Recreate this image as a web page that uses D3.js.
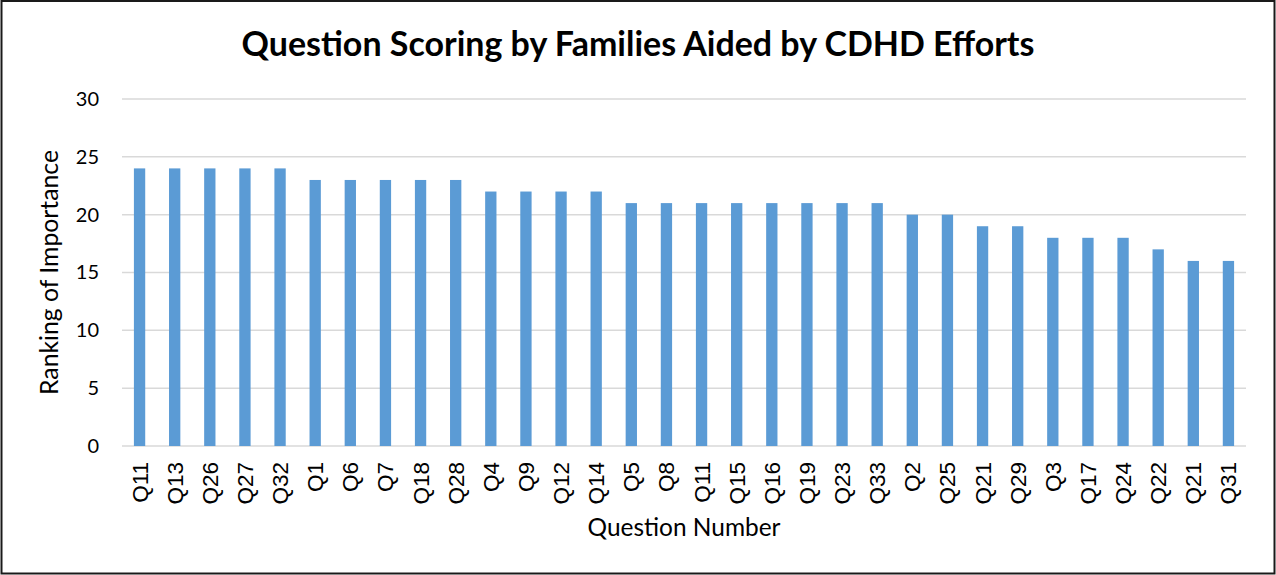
<!DOCTYPE html>
<html>
<head>
<meta charset="utf-8">
<script src="https://cdn.jsdelivr.net/npm/d3@7"></script>
<style>
  html, body { margin: 0; padding: 0; background: #fff; }
  svg { display: block; }
</style>
</head>
<body>
<svg id="chart" width="1276" height="575"></svg>
<script>
const categories = ["Q11","Q13","Q26","Q27","Q32","Q1","Q6","Q7","Q18","Q28","Q4","Q9","Q12","Q14","Q5","Q8","Q11","Q15","Q16","Q19","Q23","Q33","Q2","Q25","Q21","Q29","Q3","Q17","Q24","Q22","Q21","Q31"];
const values = [24,24,24,24,24,23,23,23,23,23,22,22,22,22,21,21,21,21,21,21,21,21,20,20,19,19,18,18,18,17,16,16];
const yTicks = [0,5,10,15,20,25,30];
const titleText = "Question Scoring by Families Aided by CDHD Efforts";
const xTitle = "Question Number";
const yTitle = "Ranking of Importance";

const svg = d3.select("#chart");
const W = 1276, H = 575;
const margin = {left: 122, right: 30, top: 99, bottom: 129};
const x0 = margin.left, x1 = W - margin.right;
const y0 = H - margin.bottom, y1 = margin.top;

svg.append("rect").attr("x", 1.5).attr("y", 1).attr("width", W - 3).attr("height", H - 2.5)
  .attr("fill", "#fff").attr("stroke", "#1a1a1a").attr("stroke-width", 2);

const idx = categories.map((c, i) => i);
const x = d3.scaleBand().domain(idx).range([x0, x1]).paddingInner(0.678).paddingOuter(0.339);
const y = d3.scaleLinear().domain([0, 30]).range([y0, y1]);

// gridlines
svg.append("g").selectAll("line").data(yTicks).join("line")
  .attr("x1", x0).attr("x2", x1)
  .attr("y1", d => y(d)).attr("y2", d => y(d))
  .attr("stroke", "#d9d9d9").attr("stroke-width", 1.5);

// y axis labels
const yAxis = d3.axisLeft(y).tickValues(yTicks).tickSize(0).tickPadding(23);
const gy = svg.append("g").attr("transform", `translate(${x0},0)`).call(yAxis);
gy.select(".domain").remove();
gy.selectAll("text").attr("font-family", "Lato, 'Open Sans', sans-serif").attr("font-size", 20).attr("fill", "#000");

// bars
svg.append("g").selectAll("rect").data(values).join("rect")
  .attr("x", (d, i) => x(i)).attr("width", x.bandwidth())
  .attr("y", d => y(d)).attr("height", d => y(0) - y(d))
  .attr("fill", "#5b9bd5");

// x axis labels
const xAxis = d3.axisBottom(x).tickSize(0).tickFormat(i => categories[i]);
const gx = svg.append("g").attr("transform", `translate(0,${y0})`).call(xAxis);
gx.select(".domain").remove();
gx.selectAll("text")
  .attr("font-family", "'Liberation Sans', Arial, sans-serif").attr("font-size", 22.5).attr("fill", "#000")
  .attr("text-anchor", "end").attr("dy", null).attr("y", 0)
  .attr("transform", "translate(8,16) rotate(-90)");

function fit(sel, target) {
  const s = +sel.attr("font-size");
  const w = sel.node().getComputedTextLength();
  sel.attr("font-size", s * target / w);
}

const t = svg.append("text").attr("x", 638).attr("y", 56).attr("text-anchor", "middle")
  .attr("font-family", "Lato, 'Open Sans', sans-serif").attr("font-weight", "bold").attr("font-size", 32)
  .attr("fill", "#000").text(titleText);
fit(t, 793);

const xt = svg.append("text").attr("x", 684).attr("y", 536).attr("text-anchor", "middle")
  .attr("font-family", "Lato, 'Open Sans', sans-serif").attr("font-size", 24)
  .attr("fill", "#000").text(xTitle);
fit(xt, 193);

const yt = svg.append("text").attr("transform", "translate(58,272.5) rotate(-90)").attr("text-anchor", "middle")
  .attr("font-family", "Lato, 'Open Sans', sans-serif").attr("font-size", 22)
  .attr("fill", "#000").text(yTitle);
fit(yt, 245);
</script>
</body>
</html>
